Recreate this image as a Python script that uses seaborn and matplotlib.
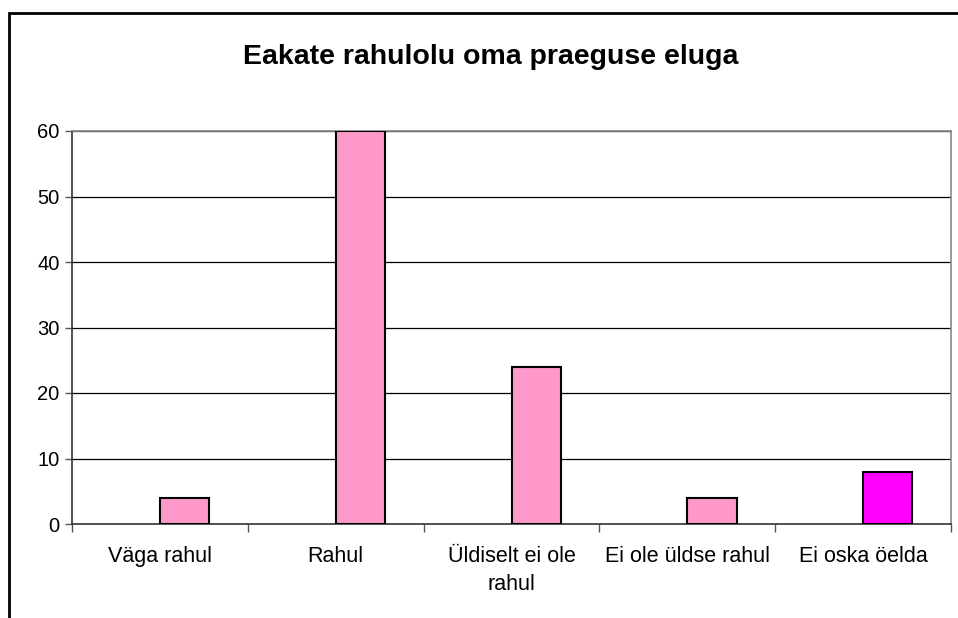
import pandas as pd
import numpy as np
import matplotlib.pyplot as plt
import seaborn as sns
from matplotlib.patches import Rectangle
from matplotlib.ticker import FixedLocator

kategooriad = ["Väga rahul", "Rahul", "Üldiselt ei ole\nrahul", "Ei ole üldse rahul", "Ei oska öelda"]
vaartused = [4, 60, 24, 4, 8]
y_ticks = [0, 10, 20, 30, 40, 50, 60]

# Excel chart had an empty first series, so the bars sit right of centre
df = pd.DataFrame({
    "kategooria": kategooriad * 2,
    "seeria": ["tühi"] * len(kategooriad) + ["vastus"] * len(kategooriad),
    "väärtus": [np.nan] * len(kategooriad) + vaartused,
})

sns.set_style("white")
plt.rcParams['font.family'] = ['Liberation Sans', 'DejaVu Sans']
plt.rcParams['text.color'] = 'black'
plt.rcParams['xtick.color'] = 'black'
plt.rcParams['ytick.color'] = 'black'

fig = plt.figure(figsize=(9.58, 6.18), dpi=100)
ax = fig.add_axes([72/958, 94/618, 879/958, 393/618])

sns.barplot(data=df, x="kategooria", y="väärtus", hue="seeria",
            hue_order=["tühi", "vastus"], order=kategooriad,
            palette={"tühi": "#FF99CC", "vastus": "#FF99CC"}, saturation=1,
            dodge=True, width=0.56, edgecolor="black", linewidth=1.5,
            errorbar=None, legend=False, ax=ax, zorder=3)

# last category in magenta
bars = [p for p in ax.patches if p.get_height() > 0]
bars = sorted(bars, key=lambda p: p.get_x())
bars[-1].set_facecolor("#FF00FF")

ax.set_ylim(0, 60)
ax.set_xlim(-0.5, len(kategooriad) - 0.5)
ax.set_yticks(y_ticks)
ax.yaxis.grid(True, color="#000000", linewidth=0.9, zorder=0)
ax.tick_params(axis="y", labelsize=14.5, labelcolor="black", length=5, width=1,
               color="#555555", pad=4, left=True)

ax.xaxis.set_major_locator(FixedLocator(np.arange(-0.5, len(kategooriad), 1)))
ax.set_xticklabels([])
ax.xaxis.set_minor_locator(FixedLocator(np.arange(len(kategooriad))))
ax.set_xticklabels(kategooriad, minor=True, fontsize=15.5, linespacing=1.45, color="black")
ax.tick_params(axis="x", which="major", length=6, width=1, color="#555555", bottom=True)
ax.tick_params(axis="x", which="minor", length=0, pad=16)

ax.set_xlabel("")
ax.set_ylabel("")

for side in ["left", "bottom"]:
    ax.spines[side].set_color("#333333")
    ax.spines[side].set_linewidth(1.2)
for side in ["top", "right"]:
    ax.spines[side].set_color("#888888")
    ax.spines[side].set_linewidth(1.2)

fig.text(491/958, 1 - 57/618, "Eakate rahulolu oma praeguse eluga",
         ha="center", va="center", fontsize=20.5, fontweight="bold", color="black")

# outer chart frame
fig.patches.append(Rectangle((9/958, -0.1), 1.2, 1.1 - 13/618, transform=fig.transFigure,
                             fill=False, edgecolor="black", linewidth=2))

fig.savefig("out.png", dpi=100)
